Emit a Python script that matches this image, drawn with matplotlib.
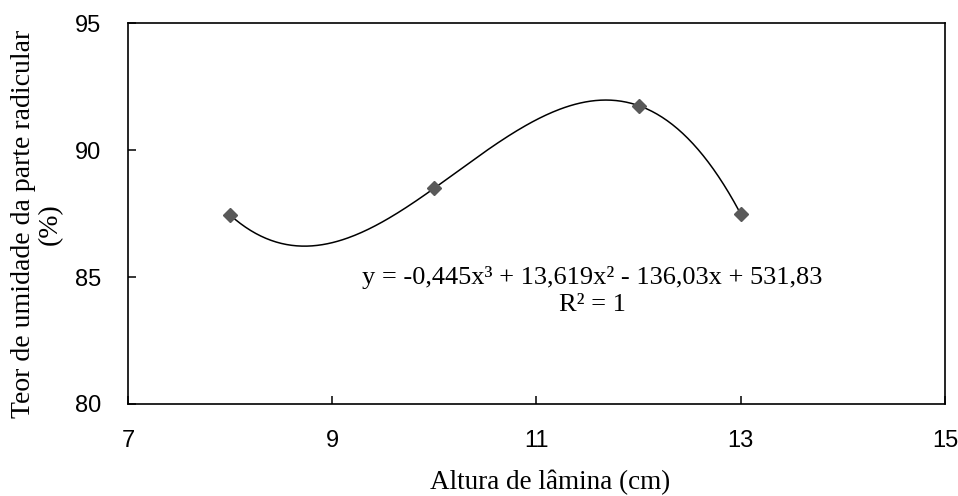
import matplotlib
matplotlib.use('Agg')
import matplotlib.pyplot as plt
import numpy as np

# data
altura = [8, 10, 12, 13]
teor = [87.44, 88.5, 91.75, 87.48]
x_ticks = [7, 9, 11, 13, 15]
y_ticks = [80, 85, 90, 95]
equation = "y = -0,445x\u00b3 + 13,619x\u00b2 - 136,03x + 531,83\nR\u00b2 = 1"

serif = 'Liberation Serif'
sans = 'Liberation Sans'

fig = plt.figure(figsize=(9.58, 4.96), dpi=100)
ax = fig.add_axes([0.1336, 0.1855, 0.8528, 0.768])

# cubic trendline through the points
coef = np.polyfit(altura, teor, 3)
x_fit = np.linspace(min(altura), max(altura), 300)
ax.plot(x_fit, np.polyval(coef, x_fit), color='black', lw=1.1, zorder=2)

ax.plot(altura, teor, linestyle='none', marker='D', markersize=6.8,
        color='#595959', zorder=3)

ax.set_xlim(7, 15)
ax.set_ylim(80, 95)
ax.set_xticks(x_ticks)
ax.set_yticks(y_ticks)
ax.set_xticklabels([str(t) for t in x_ticks], fontfamily=sans, fontsize=17)
ax.set_yticklabels([str(t) for t in y_ticks], fontfamily=sans, fontsize=17)
ax.tick_params(direction='in', length=6, width=1.1, pad=19, color='black')

for s in ax.spines.values():
    s.set_linewidth(1.2)
    s.set_color('black')

# axis titles placed like the Excel original
fig.text(550 / 958, 7 / 496, 'Altura de lâmina (cm)', fontfamily=serif,
         fontsize=19.5, ha='center', va='baseline')
fig.text(37 / 958, 1 - 224 / 496, 'Teor de umidade da parte radicular\n(%)',
         fontfamily=serif, fontsize=20, rotation=90, ha='center', va='center',
         multialignment='center', linespacing=1.12)

ax.text(11.55, 84.45, equation, fontfamily=serif, fontsize=19, ha='center',
        va='center', multialignment='center', linespacing=1.25)

fig.savefig('out.png', dpi=100)
